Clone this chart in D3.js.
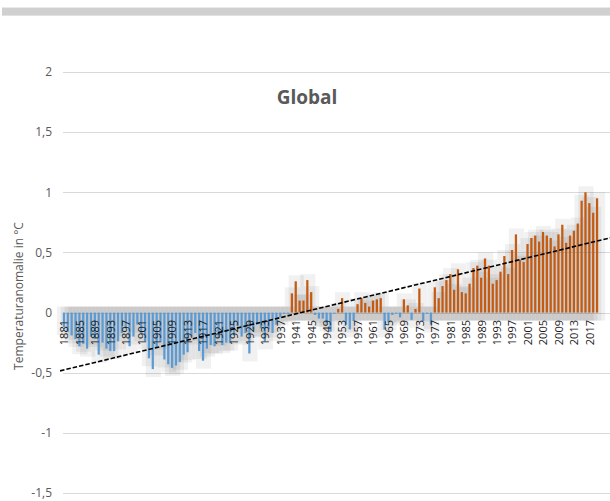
<!DOCTYPE html>
<html><head><meta charset="utf-8">
<script src="https://cdn.jsdelivr.net/npm/d3@7"></script>
<style>html,body{margin:0;padding:0;background:#fff;}svg{display:block;}</style>
</head><body>
<script>
const firstYear = 1881, lastYear = 2019;
const years = d3.range(firstYear, lastYear + 1);
const anomalies = [
  -0.12,-0.16,-0.19,-0.22,-0.28,-0.26,-0.30,-0.20,-0.22,            // 1881-1889
  -0.35,-0.25,-0.30,-0.32,-0.32,-0.24,-0.17,-0.13,-0.28,-0.20,      // 1890s
  -0.10,-0.17,-0.24,-0.38,-0.47,-0.29,-0.24,-0.39,-0.43,-0.46,      // 1900s
  -0.44,-0.41,-0.35,-0.33,-0.20,-0.17,-0.32,-0.40,-0.30,-0.27,      // 1910s
  -0.28,-0.21,-0.27,-0.25,-0.25,-0.19,-0.11,-0.20,-0.17,-0.34,      // 1920s
  -0.14,-0.10,-0.13,-0.24,-0.14,-0.17,-0.10,-0.04,-0.01,-0.01,      // 1930s
   0.16, 0.26, 0.10, 0.10, 0.27, 0.17,-0.02,-0.05,-0.05,-0.09,      // 1940s
  -0.16,-0.01, 0.03, 0.12,-0.10,-0.14,-0.07, 0.07, 0.12, 0.08,      // 1950s
   0.05, 0.10, 0.11, 0.12,-0.14,-0.08,-0.02,-0.01,-0.04, 0.11,      // 1960s
   0.06,-0.06, 0.03, 0.20,-0.07,-0.01,-0.10, 0.21, 0.12, 0.22,      // 1970s
   0.27, 0.32, 0.19, 0.36, 0.17, 0.16, 0.24, 0.37, 0.39, 0.29,      // 1980s
   0.45, 0.39, 0.24, 0.27, 0.34, 0.47, 0.32, 0.52, 0.65, 0.44,      // 1990s
   0.42, 0.57, 0.62, 0.64, 0.59, 0.67, 0.64, 0.62, 0.55, 0.65,      // 2000s
   0.73, 0.58, 0.64, 0.68, 0.74, 0.93, 1.00, 0.91, 0.83, 0.95       // 2010s
];
const yTicks = [-1.5, -1, -0.5, 0, 0.5, 1, 1.5, 2];
const yTickLabels = ["-1,5", "-1", "-0,5", "0", "0,5", "1", "1,5", "2"];
const xLabelYears = years.filter((y, i) => i % 4 === 0);
const titleText = "Global";
const yAxisTitle = "Temperaturanomalie in °C";

const W = 610, H = 501;
const svg = d3.select("body").append("svg").attr("width", W).attr("height", H)
  .style("font-family", "'Open Sans', 'Liberation Sans', sans-serif");

// top decorative band
svg.append("rect").attr("x", 2).attr("y", 7).attr("width", W).attr("height", 9).attr("fill", "#e9e9e9");
svg.append("rect").attr("x", 2).attr("y", 8).attr("width", W).attr("height", 7.3).attr("fill", "#d0d0d0");

const x = d3.scaleBand().domain(years).range([62, 599]).paddingInner(0.42).paddingOuter(0.21);
const y = d3.scaleLinear().domain([-1.5, 2]).range([493, 72]);

// gridlines
svg.append("g").selectAll("line").data(yTicks).join("line")
  .attr("x1", 63).attr("x2", W).attr("y1", d => Math.round(y(d)) + 0.5).attr("y2", d => Math.round(y(d)) + 0.5)
  .attr("stroke", "#d9d9d9").attr("stroke-width", 1);

// y tick labels
const yAxis = d3.axisLeft(y).tickValues(yTicks).tickSize(0).tickPadding(0)
  .tickFormat((d, i) => yTickLabels[i]);
const gy = svg.append("g").attr("transform", "translate(52,0)").call(yAxis);
gy.select(".domain").remove();
gy.selectAll("text").attr("fill", "#595959").attr("font-size", 12).style("font-family", "'Open Sans', sans-serif");

const data = years.map((yr, i) => ({ yr, v: anomalies[i] }));

// bar shadows
const sh = svg.append("g");
sh.selectAll("rect").data(data).join("rect")
  .attr("x", d => x(d.yr) - 6)
  .attr("width", x.bandwidth() + 13)
  .attr("y", d => (d.v >= 0 ? y(d.v) : y(0)) - 6)
  .attr("height", d => Math.abs(y(d.v) - y(0)) + 14)
  .attr("fill", "#000").attr("fill-opacity", 0.055);

// bars
svg.append("g").selectAll("rect").data(data).join("rect")
  .attr("x", d => x(d.yr))
  .attr("width", x.bandwidth())
  .attr("y", d => d.v >= 0 ? y(d.v) : y(0))
  .attr("height", d => Math.abs(y(d.v) - y(0)))
  .attr("fill", d => d.v >= 0 ? "#c55a11" : "#5b9bd5");

// x tick labels
svg.append("g").selectAll("text").data(xLabelYears).join("text")
  .attr("transform", d => `translate(${x(d) + x.bandwidth() / 2 + 0.5},320) rotate(-90)`)
  .attr("text-anchor", "end").attr("dy", "0.35em")
  .attr("font-size", 11).attr("fill", "#1a1a1a")
  .text(d => d);

// linear trend line (least squares over the series)
const n = anomalies.length;
const idx = d3.range(n);
const mx = d3.mean(idx), my = d3.mean(anomalies);
const slope = d3.sum(idx, i => (i - mx) * (anomalies[i] - my)) / d3.sum(idx, i => (i - mx) * (i - mx));
const icpt = my - slope * mx;
const step = x.step();
const cx = i => x(firstYear) + x.bandwidth() / 2 + i * step;
const trendIdx = [-1, n + 4];
svg.append("line")
  .attr("x1", cx(trendIdx[0])).attr("y1", y(icpt + slope * trendIdx[0]))
  .attr("x2", cx(trendIdx[1])).attr("y2", y(icpt + slope * trendIdx[1]))
  .attr("stroke", "#000").attr("stroke-width", 1.6).attr("stroke-dasharray", "4.5,2");

// title
svg.append("text").attr("x", 307).attr("y", 104).attr("text-anchor", "middle")
  .attr("font-size", 19).attr("font-weight", "bold").attr("fill", "#595959").text(titleText);

// y axis title
svg.append("text").attr("transform", "translate(19,296) rotate(-90)")
  .attr("text-anchor", "middle").attr("dy", "0.35em")
  .attr("font-size", 12).attr("fill", "#595959").text(yAxisTitle);
</script>
</body></html>
